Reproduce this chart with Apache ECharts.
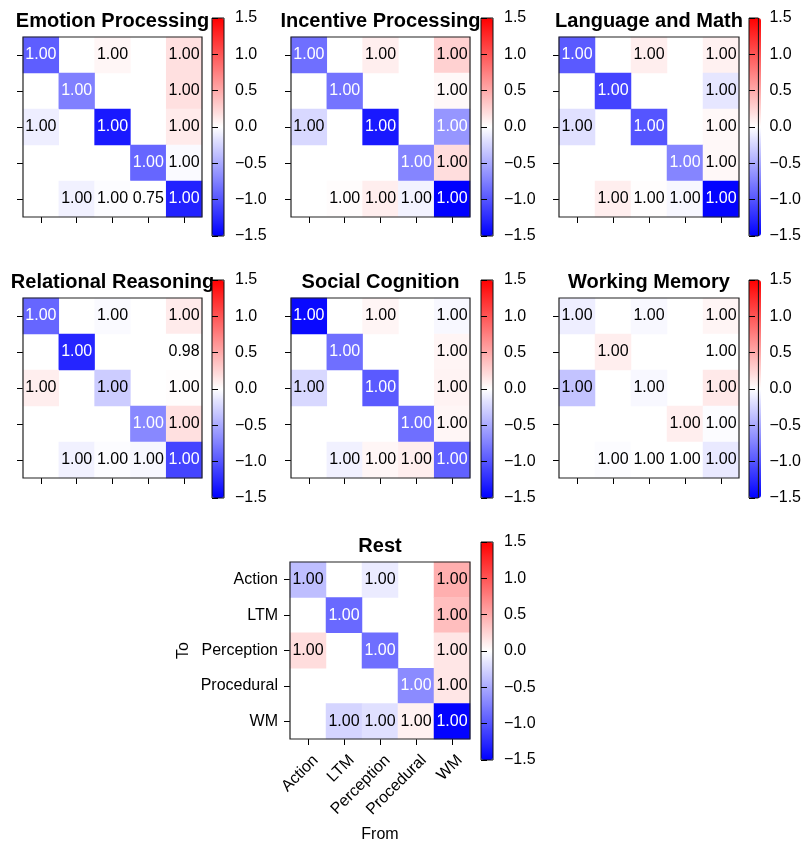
<!DOCTYPE html>
<html>
<head>
<meta charset="utf-8">
<script src="https://cdn.jsdelivr.net/npm/echarts@6/dist/echarts.min.js"></script>
<style>html,body{margin:0;padding:0;background:#fff}#c{width:804px;height:844px}</style>
</head>
<body>
<div id="c"></div>
<script>
// ---------- data ----------
const categories = ['Action', 'LTM', 'Perception', 'Procedural', 'WM'];
const panelTitles = ['Emotion Processing', 'Incentive Processing', 'Language and Math',
  'Relational Reasoning', 'Social Cognition', 'Working Memory', 'Rest'];
const colorbarTicks = [-1.5, -1.0, -0.5, 0.0, 0.5, 1.0, 1.5];

// colour values (rows = To, columns = From); null = empty cell
const emotionValues = [
  [-0.95, null, 0.05, null, 0.18],
  [null, -0.75, null, null, 0.18],
  [-0.10, null, -1.35, null, 0.12],
  [null, null, null, -0.90, -0.03],
  [null, -0.08, -0.02, 0.00, -1.30]];
const incentiveValues = [
  [-0.85, null, 0.10, null, 0.27],
  [null, -0.82, null, null, 0.04],
  [-0.23, null, -1.35, null, -0.62],
  [null, null, null, -0.72, 0.20],
  [null, 0.02, 0.10, -0.07, -1.50]];
const languageValues = [
  [-0.97, null, 0.10, null, 0.08],
  [null, -1.10, null, null, -0.15],
  [-0.18, null, -1.00, null, 0.04],
  [null, null, null, -0.72, 0.04],
  [null, 0.10, 0.01, -0.05, -1.48]];
const relationalValues = [
  [-0.90, null, -0.03, null, 0.12],
  [null, -1.28, null, null, 0.00],
  [0.10, null, -0.30, null, 0.01],
  [null, null, null, -0.70, 0.18],
  [null, -0.08, -0.02, -0.05, -1.10]];
const socialValues = [
  [-1.45, null, 0.06, null, -0.04],
  [null, -0.85, null, null, 0.06],
  [-0.23, null, -0.97, null, 0.07],
  [null, null, null, -0.85, 0.05],
  [null, -0.08, 0.05, 0.10, -0.93]];
const workingValues = [
  [-0.10, null, -0.04, null, 0.06],
  [null, 0.10, null, null, 0.00],
  [-0.35, null, -0.04, null, 0.13],
  [null, null, null, 0.10, -0.02],
  [null, -0.02, 0.00, 0.00, -0.13]];
const restValues = [
  [-0.38, null, -0.12, null, 0.47],
  [null, -0.88, null, null, 0.38],
  [0.20, null, -0.85, null, 0.15],
  [null, null, null, -0.68, 0.15],
  [null, -0.25, -0.18, 0.08, -1.48]];

// annotation texts
const emotionAnn = [
  ['1.00', null, '1.00', null, '1.00'],
  [null, '1.00', null, null, '1.00'],
  ['1.00', null, '1.00', null, '1.00'],
  [null, null, null, '1.00', '1.00'],
  [null, '1.00', '1.00', '0.75', '1.00']];
const defaultAnn = [
  ['1.00', null, '1.00', null, '1.00'],
  [null, '1.00', null, null, '1.00'],
  ['1.00', null, '1.00', null, '1.00'],
  [null, null, null, '1.00', '1.00'],
  [null, '1.00', '1.00', '1.00', '1.00']];
const relationalAnn = [
  ['1.00', null, '1.00', null, '1.00'],
  [null, '1.00', null, null, '0.98'],
  ['1.00', null, '1.00', null, '1.00'],
  [null, null, null, '1.00', '1.00'],
  [null, '1.00', '1.00', '1.00', '1.00']];

const panelValues = [emotionValues, incentiveValues, languageValues, relationalValues,
  socialValues, workingValues, restValues];
const panelAnn = [emotionAnn, defaultAnn, defaultAnn, relationalAnn, defaultAnn, defaultAnn, defaultAnn];

// ---------- layout ----------
const layout = [
  {l: 23, t: 37, w: 179, h: 180, cbl: 212, cbt: 18},
  {l: 291, t: 37, w: 179, h: 180, cbl: 481, cbt: 18},
  {l: 559, t: 37, w: 180, h: 180, cbl: 749, cbt: 18},
  {l: 23, t: 298, w: 179, h: 180, cbl: 212, cbt: 280},
  {l: 291, t: 298, w: 179, h: 180, cbl: 481, cbt: 280},
  {l: 559, t: 298, w: 180, h: 180, cbl: 749, cbt: 280},
  {l: 290, t: 562, w: 180, h: 179, cbl: 481, cbt: 542}
];
const CBW = 12, CBH = 218;
const FONT = '"Liberation Sans", Arial, Helvetica, sans-serif';
const FS = 16;
const bwr = ['#0000ff', '#ffffff', '#ff0000'];

function lin(x) { x /= 255; return x <= 0.04045 ? x / 12.92 : Math.pow((x + 0.055) / 1.055, 2.4); }
function textColor(v) {
  const a = Math.min(Math.abs(v) / 1.5, 1);
  const c = 255 * (1 - a);
  const L = v < 0 ? (0.2126 + 0.7152) * lin(c) + 0.0722 : 0.2126 + (0.7152 + 0.0722) * lin(c);
  return L > 0.408 ? '#000' : '#fff';
}
function fmtTick(v) { return (v < 0 ? '\u2212' : '') + Math.abs(v).toFixed(1); }

const grid = [], xAxis = [], yAxis = [], series = [], visualMap = [], graphic = [];
const N = layout.length;
for (let i = 0; i < N; i++) {
  const L = layout[i];
  const isRest = i === N - 1;
  grid.push({left: L.l, top: L.t, width: L.w, height: L.h, show: true,
    borderColor: '#222', borderWidth: 1.2, backgroundColor: 'transparent', z: 5, containLabel: false});
  xAxis.push({type: 'category', gridIndex: i, data: categories,
    axisLine: {show: false},
    axisTick: {show: true, alignWithLabel: true, length: 6, lineStyle: {color: '#000', width: 1}},
    axisLabel: {show: isRest, rotate: 45, margin: 11, verticalAlign: 'top', padding: [3, 0, 0, 0],
      fontSize: FS, color: '#000', fontFamily: FONT, interval: 0},
    splitLine: {show: false},
    name: isRest ? 'From' : '', nameLocation: 'middle', nameGap: 88,
    nameTextStyle: {fontSize: FS, color: '#000', fontFamily: FONT}
  });
  yAxis.push({type: 'category', gridIndex: i, data: categories, inverse: true,
    axisLine: {show: false},
    axisTick: {show: true, alignWithLabel: true, length: 6, lineStyle: {color: '#000', width: 1}},
    axisLabel: {show: isRest, margin: 12, fontSize: FS, color: '#000', fontFamily: FONT},
    splitLine: {show: false},
    name: isRest ? 'To' : '', nameLocation: 'middle', nameRotate: 90, nameGap: 98,
    nameTextStyle: {fontSize: FS, color: '#000', fontFamily: FONT}
  });
  const data = [];
  const vals = panelValues[i], ann = panelAnn[i];
  for (let r = 0; r < 5; r++) for (let c = 0; c < 5; c++) {
    if (vals[r][c] === null) continue;
    data.push({value: [c, r, vals[r][c]],
      label: {formatter: ann[r][c] || '', color: textColor(vals[r][c])}});
  }
  series.push({type: 'heatmap', xAxisIndex: i, yAxisIndex: i, data: data,
    label: {show: true, fontSize: FS, fontFamily: FONT},
    emphasis: {disabled: true}, progressive: 0, animation: false});
  visualMap.push({type: 'continuous', min: -1.5, max: 1.5, seriesIndex: i, dimension: 2,
    inRange: {color: bwr}, calculable: false, hoverLink: false, text: ['', ''],
    left: L.cbl, top: L.cbt, itemWidth: CBW, itemHeight: CBH, padding: 0, itemGap: 0,
    orient: 'vertical', z: 4});
  graphic.push({type: 'text', z: 1, x: L.l + L.w / 2, y: L.t - 16,
    style: {text: panelTitles[i], font: 'bold 20px ' + FONT, fill: '#000',
      textAlign: 'center', textVerticalAlign: 'middle'}});
}
// colorbar axes
for (let i = 0; i < N; i++) {
  const L = layout[i];
  grid.push({left: L.cbl, top: L.cbt, width: CBW, height: CBH, show: true,
    borderColor: '#111', borderWidth: 1, backgroundColor: 'transparent', z: 10});
  xAxis.push({type: 'value', gridIndex: N + i, show: false, min: 0, max: 1});
  yAxis.push({type: 'value', gridIndex: N + i, position: 'right', min: colorbarTicks[0],
    max: colorbarTicks[colorbarTicks.length - 1], interval: 0.5,
    axisLine: {show: false},
    axisTick: {show: true, inside: false, length: 6, lineStyle: {color: '#000', width: 1}},
    axisLabel: {show: true, margin: 11, fontSize: FS, color: '#000', fontFamily: FONT, formatter: fmtTick},
    splitLine: {show: false}, z: 10});
}

const chart = echarts.init(document.getElementById('c'), null, {renderer: 'canvas'});
chart.setOption({animation: false, backgroundColor: '#fff',
  grid, xAxis, yAxis, series, visualMap, graphic});
</script>
</body>
</html>
